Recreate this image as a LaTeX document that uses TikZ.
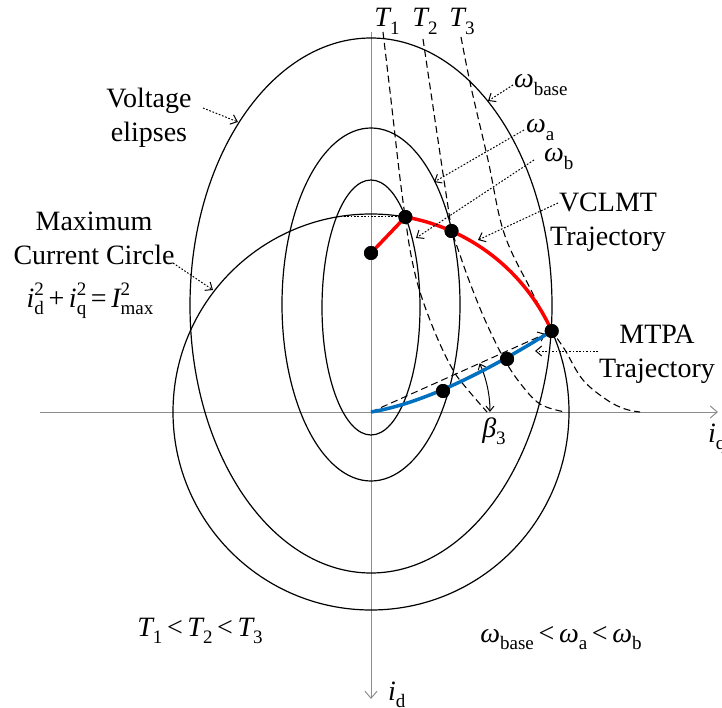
\documentclass[tikz,border=0pt]{standalone}
\usepackage{fontspec}
\setmainfont{Liberation Serif}
\usetikzlibrary{arrows.meta}
\definecolor{mtpablue}{RGB}{0,112,192}
\definecolor{axisgray}{RGB}{140,140,140}
\newcommand{\lsub}[1]{\raisebox{-0.28em}{\fontsize{19}{19}\selectfont #1}}
\newcommand{\lsupsub}[2]{\rlap{\raisebox{0.42em}{\fontsize{19}{19}\selectfont #1}}\raisebox{-0.28em}{\fontsize{19}{19}\selectfont #2}}
\begin{document}
\begin{tikzpicture}[x=1pt,y=-1pt,
  every node/.style={inner sep=0pt, outer sep=0pt, font=\fontsize{28}{34}\selectfont},
  curve/.style={line width=1.2pt, black},
  axis/.style={line width=1pt, axisgray, -{Straight Barb[length=7pt,width=12pt]}},
  torque/.style={line width=1.1pt, dash pattern=on 7pt off 4pt},
  pointer/.style={line width=1pt, dash pattern=on 1.7pt off 1.7pt, -{Straight Barb[length=6pt,width=10pt]}},
  dot/.style={circle, fill=black, minimum size=14pt, inner sep=0pt},
  redtraj/.style={line width=3.5pt, red},
  bluetraj/.style={line width=3.5pt, mtpablue},
  betaarc/.style={line width=1pt, {Straight Barb[length=5pt,width=8pt]}-{Straight Barb[length=5pt,width=8pt]}}]
\useasboundingbox (0,0) rectangle (722,708);
% axes
\coordinate (O) at (371,412);
\coordinate (xl) at (40,412);
\coordinate (xr) at (718,412);
\coordinate (yt) at (371,32);
\coordinate (yb) at (371,699);
\draw[axis] (xl) -- (xr);
\draw[axis] (yt) -- (yb);
% maximum current circle
\draw[curve] (O) circle[radius=198];
% voltage ellipses
\coordinate (Ec1) at (371,307.5);
\coordinate (Ec2) at (371,304.5);
\coordinate (Ec3) at (371,305.5);
\draw[curve] (Ec1) ellipse[x radius=49pt, y radius=127.5pt];
\draw[curve] (Ec2) ellipse[x radius=89pt, y radius=176.5pt];
\draw[curve] (Ec3) ellipse[x radius=181pt, y radius=267.5pt];
% constant torque curves
\draw[torque] plot[smooth, tension=0.6] coordinates {(383,32) (391,100) (399,170) (405,216) (411,255) (420,292) (436,335) (453,370) (468,390) (487,412)};
\draw[torque] plot[smooth, tension=0.6] coordinates {(423,39) (435,120) (447,200) (452,230) (460,255) (470,283) (485,320) (503,357) (520,383) (540,404) (565,412)};
\draw[torque] plot[smooth, tension=0.6] coordinates {(461,37) (471,87) (488,160) (504,233) (531,290) (552,330) (565,350) (583,380) (607,400) (625,409) (640,412)};
% points
\node[dot] (A) at (371,253) {};
\node[dot] (B) at (405.4,217) {};
\node[dot] (C) at (451.5,231) {};
\node[dot] (D) at (551.7,331) {};
\node[dot] (E) at (443,391) {};
\node[dot] (F) at (507,359) {};
% MTPA angle line
\draw[line width=1pt, dash pattern=on 7pt off 4pt, -{Straight Barb[length=6pt,width=10pt]}] (O) -- (D);
\coordinate (b3s) at (479.6,363.3);
\draw[betaarc] (b3s) arc[start angle=-24.1, end angle=0, radius=119];
% trajectories
\draw[redtraj] (A.center) -- (B.center) arc[start angle=-80, end angle=-24.1, radius=198];
\draw[bluetraj] (O) .. controls (431,402) and (500,363) .. (D.center);
\foreach \p in {A,B,C,D,E,F} \node[dot] at (\p) {};
% dotted horizontal to B
\coordinate (hl) at (337,217);
\draw[line width=1pt, dash pattern=on 1.7pt off 1.7pt] (hl) -- (B);
% labels
\node[anchor=base] (T1) at (387,27) {{\itshape T}\lsub{1}};
\node[anchor=base] (T2) at (425,27) {{\itshape T}\lsub{2}};
\node[anchor=base] (T3) at (462,27) {{\itshape T}\lsub{3}};
\node[anchor=base west] (wbase) at (514,88) {{\itshape ω}\lsub{base}};
\node[anchor=base west] (wa) at (526,133) {{\itshape ω}\lsub{a}};
\node[anchor=base west] (wb) at (544,162) {{\itshape ω}\lsub{b}};
\node[anchor=base, align=center] (volt) at (149,142) {Voltage\\elipses};
\node[anchor=base, align=center] (mcc) at (94,265) {Maximum\\Current Circle};
\node[anchor=base] (eq) at (90,307) {{\itshape i}\lsupsub{2}{d}\,+\,{\itshape i}\lsupsub{2}{q}\,=\,{\itshape I}\lsupsub{2}{max}};
\node[anchor=base, align=center] (vclmt) at (608,246) {VCLMT\\Trajectory};
\node[anchor=base, align=center] (mtpa) at (657,377) {MTPA\\Trajectory};
\node[anchor=base] (beta) at (494,437) {{\itshape β}\lsub{3}};
\node[anchor=base west] (iq) at (708,442) {{\itshape i}\lsub{q}};
\node[anchor=base west] (id) at (388,700) {{\itshape i}\lsub{d}};
\node[anchor=base] (tineq) at (200,636) {{\itshape T}\lsub{1}\,<\,{\itshape T}\lsub{2}\,<\,{\itshape T}\lsub{3}};
\node[anchor=base] (wineq) at (561,642) {{\itshape ω}\lsub{base}\,<\,{\itshape ω}\lsub{a}\,<\,{\itshape ω}\lsub{b}};
% pointers
\coordinate (pv) at (238,122);
\coordinate (pm) at (213,290);
\coordinate (pwb) at (488,101);
\coordinate (pwa) at (434,182);
\coordinate (pwbb) at (416,238);
\coordinate (pvc) at (478,240);
\coordinate (pmt) at (535,351);
\coordinate (sv) at (203,108);
\coordinate (sm) at (173,263);
\coordinate (swb) at (513,85);
\coordinate (swa) at (524,130);
\coordinate (swbb) at (534,160);
\coordinate (svc) at (558,203);
\coordinate (smt) at (598,351);
\draw[pointer] (sv) -- (pv);
\draw[pointer] (sm) -- (pm);
\draw[pointer] (swb) -- (pwb);
\draw[pointer] (swa) -- (pwa);
\draw[pointer] (swbb) -- (pwbb);
\draw[pointer] (svc) -- (pvc);
\draw[pointer] (smt) -- (pmt);
\end{tikzpicture}
\end{document}
